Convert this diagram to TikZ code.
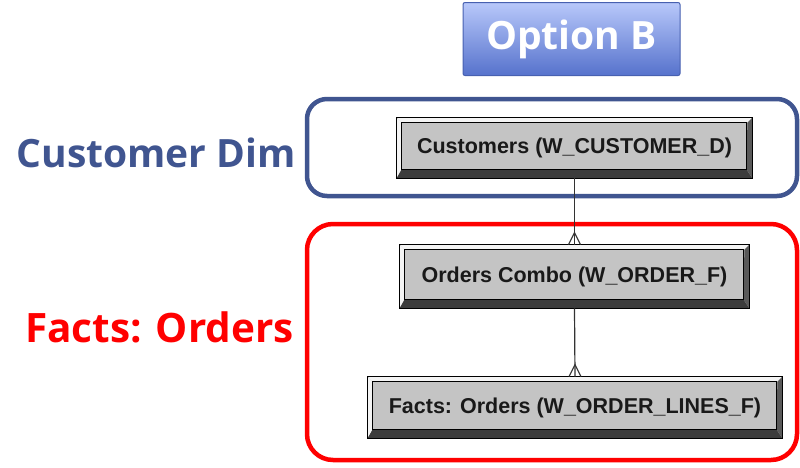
\documentclass[tikz,border=0pt]{standalone}
\usepackage{fontspec}
\setmainfont{Open Sans}
\newfontfamily\tablefont{Liberation Sans}
\usetikzlibrary{calc}
\definecolor{dimblue}{HTML}{405590}
\definecolor{factred}{HTML}{FF0000}
\definecolor{btntop}{HTML}{B8C8FA}
\definecolor{btnbot}{HTML}{5672CC}
\definecolor{btnedge}{HTML}{4760B0}
\definecolor{facegray}{HTML}{C4C4C4}
\definecolor{bevlight}{HTML}{F4F4F4}
\definecolor{bevdark}{HTML}{3C3C3C}
\tikzset{
  x=1pt, y=-1pt,
  grouplabel/.style={font=\bfseries\fontsize{39}{44}\selectfont, inner sep=0pt},
  groupbox/.style={line width=4.5pt, rounded corners=20},
  tablebox/.style={draw=black, line width=0.8pt, fill=facegray, inner sep=0pt,
    font=\tablefont\bfseries\fontsize{21.5}{24}\selectfont, text=black!90},
  rel/.style={draw=black!80, line width=1.2pt},
}
\begin{document}
\begin{tikzpicture}
\useasboundingbox (0,0) rectangle (800,467);

% header button
\node[inner sep=0pt, minimum width=217, minimum height=73, rounded corners=2,
      top color=btntop, bottom color=btnbot, draw=btnedge, line width=1pt,
      text=white, font=\bfseries\fontsize{39}{44}\selectfont] (opt) at (571.5,39) {Option B};

% group frames
\draw[groupbox, draw=dimblue] (307,99) rectangle (797,196);
\draw[groupbox, draw=factred, rounded corners=26] (307,224) rectangle (797,460);

% group labels
\node[grouplabel, text=dimblue, anchor=east] (dimlbl) at (296,153) {Customer Dim};
\node[grouplabel, text=factred, anchor=east, font=\bfseries\fontsize{40.5}{45}\selectfont] (factlbl) at (294,327) {Facts: Orders};

% tables
\node[tablebox, minimum width=355, minimum height=60] (cust) at (574.5,148) {\raisebox{1pt}{Customers (W\_CUSTOMER\_D)}};
\node[tablebox, minimum width=349, minimum height=63] (combo) at (574.5,276.5) {\raisebox{1pt}{Orders Combo (W\_ORDER\_F)}};
\node[tablebox, minimum width=414, minimum height=61] (facts) at (575,407.5) {\raisebox{1pt}{Facts: Orders (W\_ORDER\_LINES\_F)}};

% bevelled edges of the tables
\foreach \n in {cust,combo,facts}{
  \coordinate (inw) at ([shift={(5,5)}]\n.north west);
  \coordinate (ine) at ([shift={(-5,5)}]\n.north east);
  \coordinate (ise) at ([shift={(-6,-9)}]\n.south east);
  \coordinate (isw) at ([shift={(5,-9)}]\n.south west);
  \fill[bevlight] (\n.north west) -- (\n.north east) -- (ine) -- (inw) -- cycle;
  \fill[bevlight] (\n.north west) -- (inw) -- (isw) -- (\n.south west) -- cycle;
  \fill[bevdark] (\n.south west) -- (isw) -- (ise) -- (\n.south east) -- cycle;
  \fill[bevdark!85] (\n.south east) -- (ise) -- (ine) -- (\n.north east) -- cycle;
  \draw[black, line width=0.8pt] (\n.north west) rectangle (\n.south east);
  \draw[black, line width=0.6pt] (inw) rectangle (ise);
}

% relationships with crow's feet at the many side
\draw[rel] (cust.south) -- (combo.north);
\draw[rel] ([shift={(-6,0)}]combo.north) -- ([shift={(0,-12)}]combo.north) -- ([shift={(6,0)}]combo.north);
\draw[rel] (combo.south) -- (facts.north);
\draw[rel] ([shift={(-6,0)}]facts.north) -- ([shift={(0,-12)}]facts.north) -- ([shift={(6,0)}]facts.north);
\end{tikzpicture}
\end{document}
